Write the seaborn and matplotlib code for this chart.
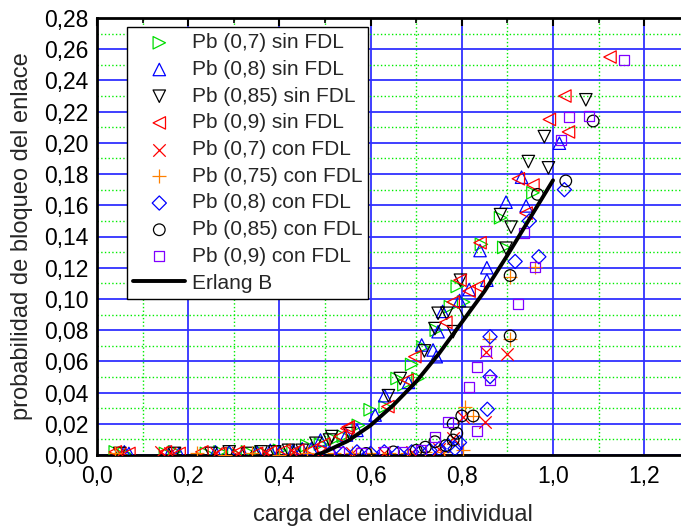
import matplotlib
matplotlib.use("Agg")
import matplotlib.pyplot as plt
from matplotlib.ticker import MultipleLocator
import seaborn as sns

# --- datos --- #

# Pb (0,7) sin FDL
x_07_sin = [0.04, 0.06, 0.15, 0.17, 0.24, 0.27, 0.30, 0.33, 0.36, 0.40,
            0.43, 0.46, 0.49, 0.52, 0.54, 0.573, 0.599, 0.632, 0.658, 0.673,
            0.690, 0.704, 0.715, 0.744, 0.775, 0.790, 0.804, 0.843, 0.885, 0.892,
            0.956]
y_07_sin = [0.002, 0.001, 0.001, 0.002, 0.001, 0.002, 0.001, 0.002, 0.002, 0.003,
            0.003, 0.006, 0.007, 0.010, 0.012, 0.019, 0.029, 0.031, 0.049, 0.045,
            0.058, 0.049, 0.069, 0.080, 0.095, 0.108, 0.098, 0.135, 0.152, 0.133,
            0.168]

# Pb (0,8) sin FDL
x_08_sin = [0.06, 0.07, 0.16, 0.18, 0.26, 0.29, 0.32, 0.35, 0.38, 0.40,
            0.43, 0.45, 0.47, 0.49, 0.547, 0.570, 0.610, 0.631, 0.683, 0.712,
            0.737, 0.744, 0.748, 0.758, 0.795, 0.816, 0.840, 0.855, 0.855, 0.897,
            0.931, 0.941, 1.014]
y_08_sin = [0.002, 0.001, 0.002, 0.001, 0.002, 0.002, 0.001, 0.002, 0.003, 0.002,
            0.003, 0.004, 0.004, 0.0096, 0.0128, 0.0158, 0.0256, 0.038, 0.0465, 0.0705,
            0.0673, 0.063, 0.079, 0.092, 0.099, 0.106, 0.131, 0.120, 0.112, 0.162,
            0.178, 0.1596, 0.1998]

# Pb (0,85) sin FDL
x_085_sin = [0.05, 0.17, 0.25, 0.29, 0.33, 0.36, 0.39, 0.42, 0.45, 0.48,
             0.51, 0.515, 0.554, 0.639, 0.665, 0.718, 0.741, 0.748, 0.767, 0.781,
             0.797, 0.807, 0.885, 0.897, 0.908, 0.946, 0.981, 0.990, 1.072]
y_085_sin = [0.001, 0.001, 0.001, 0.002, 0.001, 0.002, 0.002, 0.003, 0.003, 0.0075,
             0.0096, 0.0118, 0.0137, 0.038, 0.049, 0.0667, 0.081, 0.0908, 0.0908, 0.079,
             0.112, 0.0908, 0.154, 0.1325, 0.146, 0.188, 0.204, 0.184, 0.2276]

# Pb (0,9) sin FDL
x_09_sin = [0.04, 0.07, 0.15, 0.18, 0.23, 0.27, 0.31, 0.35, 0.38, 0.41,
            0.44, 0.47, 0.497, 0.533, 0.548, 0.551, 0.638, 0.680, 0.697, 0.765,
            0.781, 0.796, 0.816, 0.836, 0.840, 0.924, 0.941, 0.956, 0.992, 1.026,
            1.034, 1.125]
y_09_sin = [0.002, 0.001, 0.002, 0.001, 0.002, 0.001, 0.002, 0.001, 0.002, 0.003,
            0.003, 0.003, 0.007, 0.0118, 0.017, 0.018, 0.031, 0.048, 0.063, 0.085,
            0.098, 0.112, 0.105, 0.108, 0.136, 0.177, 0.155, 0.173, 0.215, 0.230,
            0.207, 0.255]

# Pb (0,7) con FDL
x_07_con = [0.05, 0.14, 0.16, 0.26, 0.31, 0.37, 0.43, 0.49, 0.56, 0.63,
            0.69, 0.75, 0.781, 0.803, 0.851, 0.853, 0.900]
y_07_con = [0.001, 0.002, 0.001, 0.001, 0.001, 0.001, 0.002, 0.001, 0.001, 0.001,
            0.002, 0.004, 0.011, 0.0246, 0.0214, 0.0657, 0.0647]

# Pb (0,75) con FDL
x_075_con = [0.04, 0.22, 0.28, 0.34, 0.40, 0.46, 0.52, 0.56, 0.60, 0.64,
             0.68, 0.72, 0.76, 0.803, 0.807, 0.825, 0.860, 0.906, 0.906, 0.961]
y_075_con = [0.001, 0.001, 0.000, 0.001, 0.000, 0.001, 0.001, 0.001, 0.001, 0.001,
             0.001, 0.002, 0.002, 0.003, 0.031, 0.025, 0.0741, 0.0745, 0.114, 0.1207]

# Pb (0,8) con FDL
x_08_con = [0.51, 0.54, 0.57, 0.60, 0.63, 0.66, 0.69, 0.71, 0.73, 0.75,
            0.77, 0.785, 0.795, 0.856, 0.862, 0.862, 0.917, 0.948, 0.969, 1.025]
y_08_con = [0.001, 0.001, 0.002, 0.001, 0.002, 0.001, 0.002, 0.002, 0.003, 0.004,
            0.006, 0.004, 0.008, 0.0293, 0.0502, 0.0758, 0.124, 0.150, 0.127, 0.170]

# Pb (0,85) con FDL
x_085_con = [0.59, 0.65, 0.70, 0.72, 0.741, 0.765, 0.781, 0.789, 0.781, 0.800,
             0.825, 0.906, 0.906, 0.966, 1.028, 1.088]
y_085_con = [0.001, 0.002, 0.003, 0.005, 0.0085, 0.006, 0.0096, 0.0139, 0.020, 0.025,
             0.025, 0.0763, 0.115, 0.167, 0.1756, 0.214]

# Pb (0,9) con FDL
x_09_con = [0.53, 0.58, 0.63, 0.67, 0.71, 0.741, 0.770, 0.816, 0.834, 0.834,
            0.853, 0.862, 0.924, 0.936, 0.961, 1.017, 1.035, 1.079, 1.155]
y_09_con = [0.002, 0.001, 0.002, 0.002, 0.003, 0.0118, 0.0214, 0.0438, 0.0566, 0.0156,
            0.0667, 0.0481, 0.0968, 0.1425, 0.1207, 0.202, 0.2164, 0.2175, 0.253]

# Erlang B
x_erlang = [0.48, 0.50, 0.55, 0.60, 0.65, 0.70, 0.75, 0.80, 0.85, 0.90, 0.95, 1.00]
y_erlang = [0.000, 0.002, 0.009, 0.019, 0.032, 0.047, 0.065, 0.085, 0.105, 0.128, 0.152, 0.176]

x_ticks = [0.0, 0.2, 0.4, 0.6, 0.8, 1.0, 1.2]
x_tick_labels = ["0,0", "0,2", "0,4", "0,6", "0,8", "1,0", "1,2"]
y_ticks = [0.00, 0.02, 0.04, 0.06, 0.08, 0.10, 0.12, 0.14,
           0.16, 0.18, 0.20, 0.22, 0.24, 0.26, 0.28]
y_tick_labels = ["0,00", "0,02", "0,04", "0,06", "0,08", "0,10", "0,12", "0,14",
                 "0,16", "0,18", "0,20", "0,22", "0,24", "0,26", "0,28"]

series = [
    ("Pb (0,7) sin FDL", x_07_sin, y_07_sin, ">", "#00dd00", 80, True),
    ("Pb (0,8) sin FDL", x_08_sin, y_08_sin, "^", "#0000ff", 80, True),
    ("Pb (0,85) sin FDL", x_085_sin, y_085_sin, "v", "#000000", 80, True),
    ("Pb (0,9) sin FDL", x_09_sin, y_09_sin, "<", "#ff0000", 80, True),
    ("Pb (0,7) con FDL", x_07_con, y_07_con, "x", "#ff0000", 80, False),
    ("Pb (0,75) con FDL", x_075_con, y_075_con, "+", "#ff8000", 90, False),
    ("Pb (0,8) con FDL", x_08_con, y_08_con, "D", "#0000ff", 52, True),
    ("Pb (0,85) con FDL", x_085_con, y_085_con, "o", "#000000", 70, True),
    ("Pb (0,9) con FDL", x_09_con, y_09_con, "s", "#8000ff", 52, True),
]

# --- grafico --- #
sns.set_style("white")
plt.rcParams["font.family"] = ["Liberation Sans", "DejaVu Sans"]

fig = plt.figure(figsize=(6.81, 5.29), dpi=100)
ax = fig.add_axes([97 / 681, 74 / 529, 1.3 * 456 / 681, 437 / 529])

handles = []
labels = []
for label, xs, ys, marker, color, size, open_marker in series:
    if open_marker:
        sns.scatterplot(x=xs, y=ys, marker=marker, s=size, color=color,
                        facecolor="none", edgecolor=color, linewidth=0.9,
                        label=label, ax=ax, zorder=3)
    else:
        sns.scatterplot(x=xs, y=ys, marker=marker, s=size, color=color,
                        linewidth=0.9, label=label, ax=ax, zorder=3)
    handles.append(ax.collections[-1])
    labels.append(label)

sns.lineplot(x=x_erlang, y=y_erlang, color="black", linewidth=2.8, ax=ax,
             label="Erlang B", zorder=4)
handles.append(ax.lines[-1])
labels.append("Erlang B")

ax.set_xlim(0, 1.3)
ax.set_ylim(0, 0.28)
ax.set_xticks(x_ticks)
ax.set_xticklabels(x_tick_labels)
ax.set_yticks(y_ticks)
ax.set_yticklabels(y_tick_labels)
ax.xaxis.set_minor_locator(MultipleLocator(0.1))
ax.yaxis.set_minor_locator(MultipleLocator(0.01))

ax.set_axisbelow(True)
ax.grid(which="major", color="#3030ff", linewidth=1.3, linestyle="-")
ax.grid(which="minor", color="#00ee00", linewidth=1.0, linestyle=":")

ax.tick_params(which="both", direction="in", top=True, right=True,
               colors="black", labelsize=16.5)
ax.tick_params(which="major", length=6, width=1.5)
ax.tick_params(which="minor", length=3.5, width=1.2)
ax.tick_params(axis="x", pad=7)
ax.tick_params(axis="y", pad=6)

for sp in ax.spines.values():
    sp.set_color("black")
    sp.set_linewidth(2)

ax.set_xlabel("carga del enlace individual", fontsize=17, labelpad=12)
ax.set_ylabel("probabilidad de bloqueo del enlace", fontsize=17, labelpad=8)

leg = ax.legend(handles, labels, loc="upper left",
                bbox_to_anchor=(30 / 592.8, 428 / 437), borderaxespad=0,
                frameon=True, fancybox=False, edgecolor="black", framealpha=1,
                fontsize=15, handlelength=2.5, handletextpad=0.3,
                borderpad=0.3, labelspacing=0.37, scatterpoints=1)
leg.get_frame().set_linewidth(1.0)
leg.set_zorder(10)

fig.savefig("out.png", dpi=100)
plt.close(fig)
